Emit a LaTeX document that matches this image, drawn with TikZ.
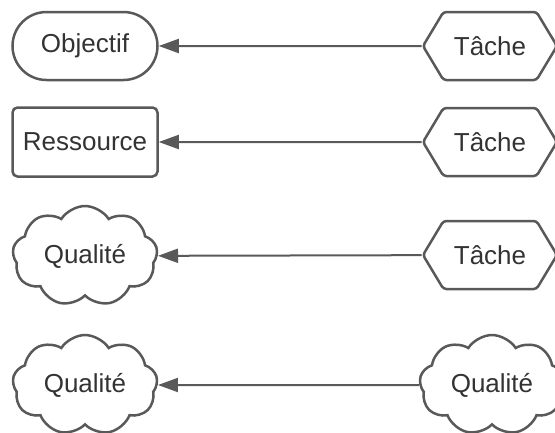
\documentclass[tikz,border=0pt]{standalone}
\usepackage{fontspec}
\setmainfont{Liberation Sans}
\usepackage{xcolor}
\usetikzlibrary{shapes.misc,shapes.symbols}
\usetikzlibrary{arrows.meta}
\definecolor{traitgris}{HTML}{595959}
\definecolor{textegris}{HTML}{333333}
\tikzset{
	element/.style={
			draw=traitgris, line width=2.5pt, fill=white, text=textegris,
			font=\fontsize{26}{31}\selectfont, inner sep=0pt
		},
	objectif/.style={element, rounded rectangle, minimum width=145pt, minimum height=68pt},
	ressource/.style={element, rectangle, rounded corners=5pt, minimum width=145pt, minimum height=69pt},
	qualite/.style={element, cloud, cloud puffs=9, cloud puff arc=115, cloud ignores aspect,
			minimum width=145pt, minimum height=100pt},
	tache/.style={element, signal, signal to=west and east, signal pointer angle=118,
			rounded corners=3pt, minimum width=134pt, minimum height=68pt},
	lien/.style={draw=traitgris, line width=2pt, -{Triangle[length=20pt,width=14pt]}}
}

\begin{document}
\begin{tikzpicture}[x=1pt, y=-1pt]
		\useasboundingbox (0,0) rectangle (555,432);
		% colonne de gauche
		\node[objectif] (obj) at (85,46) {Objectif};
		\node[ressource] (res) at (85,142) {Ressource};
		\node[qualite] (qual1) at (85,256) {Qualit\'e};
		\node[qualite] (qual2) at (85,385) {Qualit\'e};
		% colonne de droite
		\node[tache] (tache1) at (490,46) {T\^ache};
		\node[tache] (tache2) at (490,142) {T\^ache};
		\node[tache] (tache3) at (490,255) {T\^ache};
		\node[qualite] (qual3) at (492,385) {Qualit\'e};
		% liens
		\draw[lien] (tache1) -- (obj);
		\draw[lien] (tache2) -- (res);
		\draw[lien] (tache3) -- (qual1);
		\draw[lien] (qual3) -- (qual2);
	\end{tikzpicture}
\end{document}
